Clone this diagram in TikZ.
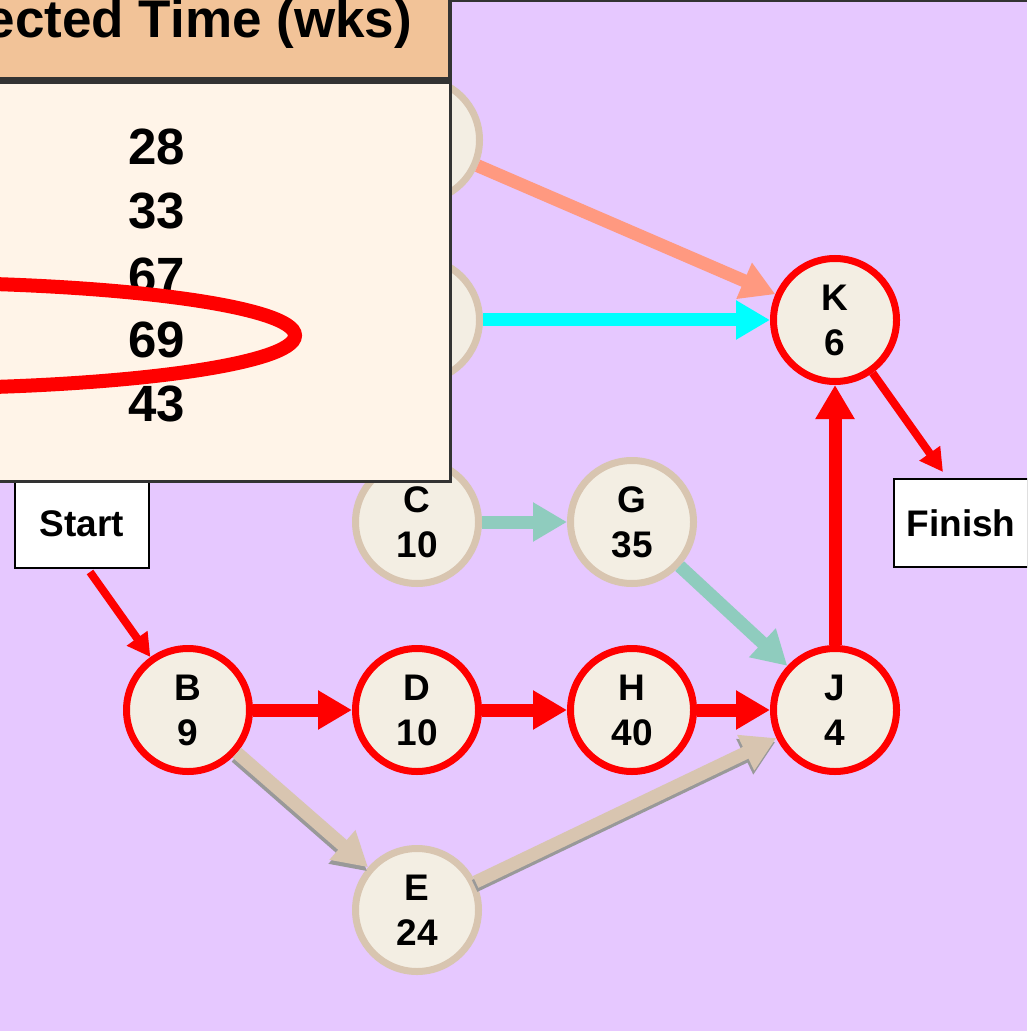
\documentclass[tikz,border=0pt]{standalone}
\usepackage{fontspec}
\setmainfont{Liberation Sans}
\usetikzlibrary{arrows.meta}
\definecolor{lila}{HTML}{E6C8FF}
\definecolor{knotenfill}{HTML}{F3EEE3}
\definecolor{sand}{HTML}{D8C5B0}
\definecolor{mint}{HTML}{8FCCBE}
\definecolor{lachs}{HTML}{FF9980}
\definecolor{tuerkis}{HTML}{00FFFF}
\definecolor{pfirsich}{HTML}{F2C398}
\definecolor{creme}{HTML}{FFF4E8}
\definecolor{dunkel}{HTML}{333333}
\definecolor{schattengrau}{HTML}{999999}
\tikzset{
  knoten/.style={circle,draw=sand,fill=knotenfill,line width=3.5pt,minimum size=61.5pt,
    inner sep=0pt,align=center,font=\fontsize{18.5}{22.5}\selectfont\bfseries},
  krit/.style={knoten,draw=red},
  kasten/.style={rectangle,draw=black,fill=white,line width=1pt,minimum width=67pt,
    minimum height=44pt,font=\fontsize{18.5}{22.5}\selectfont\bfseries},
  pfeil/.style={-{Triangle[length=17pt,width=18.5pt]},line width=6.5pt},
  pfeild/.style={-{Triangle[length=11.5pt,width=12pt]},line width=4pt,red},
  schatten/.style={pfeil,schattengrau,transform canvas={xshift=-0.5pt,yshift=-2pt}},
  zahl/.style={anchor=base,font=\fontsize{25.5}{30}\selectfont\bfseries},
}

\begin{document}
\begin{tikzpicture}[x=0.5pt,y=-0.5pt]
  \path[use as bounding box,clip] (0,0) rectangle (1027,1031);
  \fill[lila] (0,0) rectangle (1027,1031);
  \draw[dunkel,line width=1pt] (452,1) -- (1027,1);

  % start and finish
  \node[kasten] (Start) at (82,524) {Start};
  \node[kasten] (Finish) at (961,523) {Finish};

  % activities
  \node[knoten] (A) at (418,140) {};
  \node[knoten] (F) at (418,320) {};
  \node[knoten] (C) at (417,522) {C\\10};
  \node[knoten] (G) at (632,522) {G\\35};
  \node[krit] (B) at (188,710) {B\\9};
  \node[krit] (D) at (417,710) {D\\10};
  \node[krit] (H) at (632,710) {H\\40};
  \node[krit] (J) at (835,710) {J\\4};
  \node[krit] (K) at (835,320) {K\\6};
  \node[knoten] (E) at (417,910) {E\\24};

  % connectors
  \draw[pfeil,lachs] (A) -- (K);
  \draw[pfeil,tuerkis] (F) -- (K);
  \draw[pfeil,mint] (C) -- (G);
  \draw[pfeil,mint] (G) -- (J);
  \draw[pfeild] ([shift={(8,3)}]Start.south) -- (B);
  \draw[pfeil,red] (B) -- (D);
  \draw[pfeil,red] (D) -- (H);
  \draw[pfeil,red] (H) -- (J);
  \draw[pfeil,red] (J) -- (K);
  \draw[pfeild] (K) -- ([shift={(-18,-6)}]Finish.north);
  \draw[schatten] (B) -- (E);
  \draw[pfeil,sand] (B) -- (E);
  \draw[schatten] (E) -- (J);
  \draw[pfeil,sand] (E) -- (J);

  % table
  \filldraw[fill=pfirsich,draw=dunkel,line width=2pt] (-10,-10) rectangle (450,79);
  \filldraw[fill=creme,draw=dunkel,line width=1.5pt] (-10,83) rectangle (450,481);
  \node[anchor=base east,font=\fontsize{26.5}{30}\selectfont\bfseries] (kopf) at (419,38) {ected Time (wks)};
  \foreach \w [count=\i] in {28,33,67,69,43}
    \node[zahl] (z\i) at (157,100.5+64.2*\i) {\w};
  \draw[red,line width=7pt] (-100,335.5) ellipse [x radius=395,y radius=53];
\end{tikzpicture}
\end{document}
